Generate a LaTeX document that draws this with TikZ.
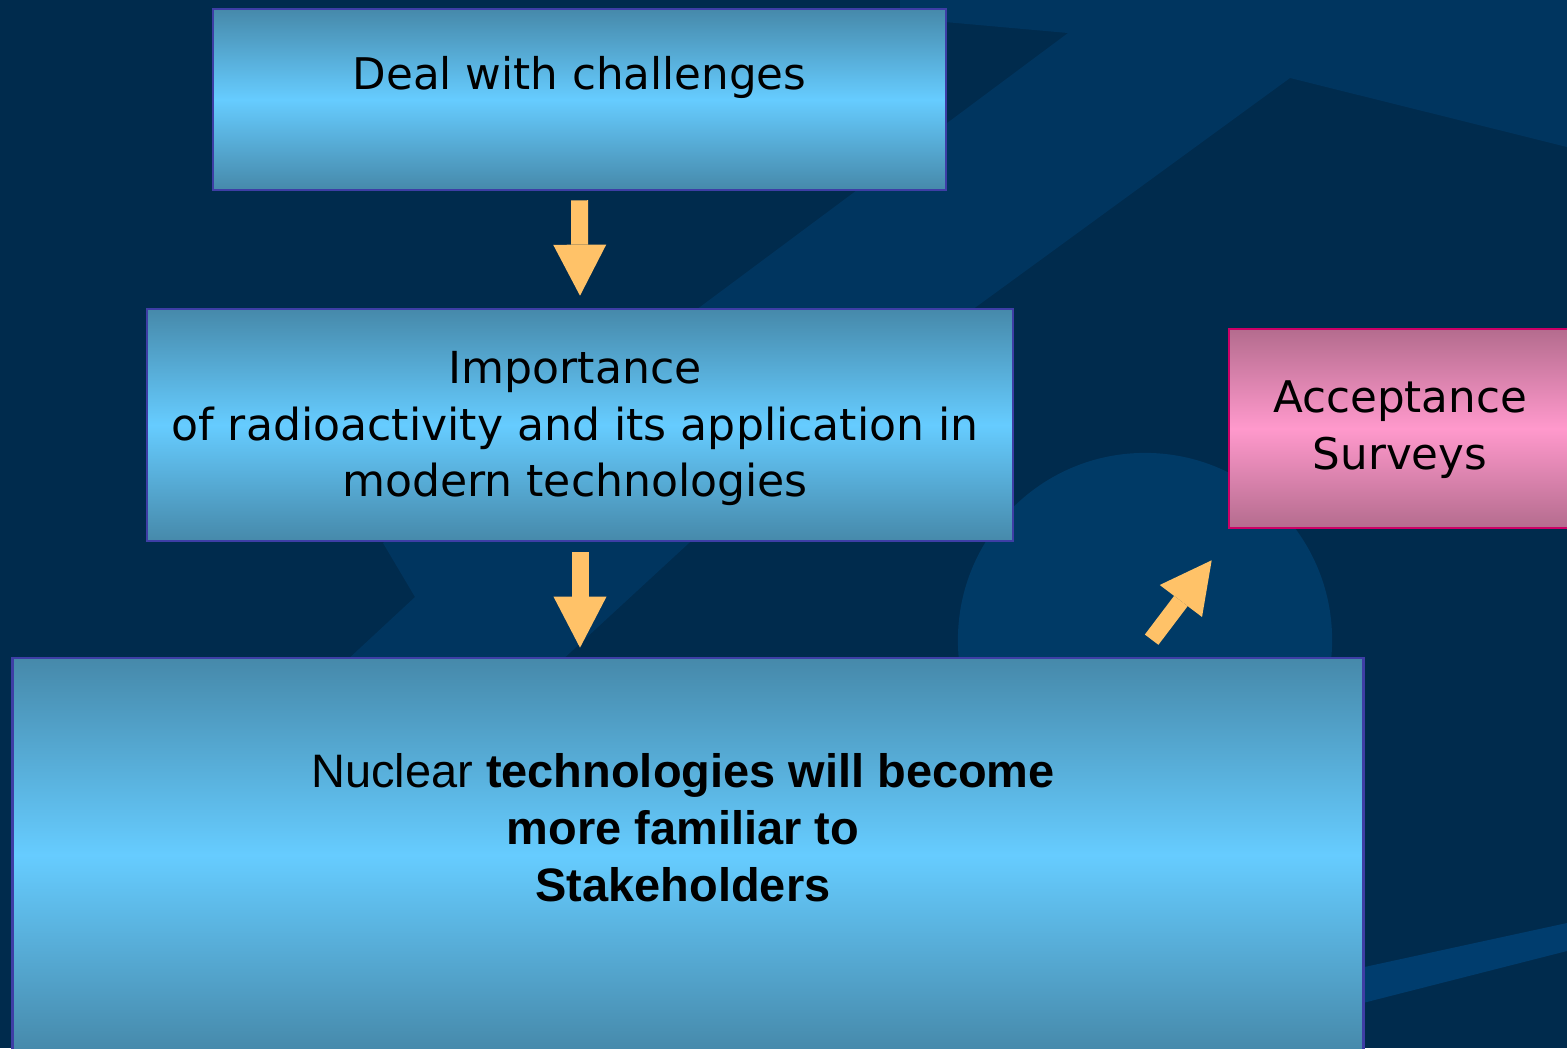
\documentclass[tikz,border=0pt]{standalone}
\usepackage{fontspec}
\setmainfont{DejaVu Sans}
\newfontfamily\arialfont{Liberation Sans}
\usetikzlibrary{arrows.meta,calc}

\definecolor{bgdark}{RGB}{0,43,77}
\definecolor{bgband}{RGB}{0,53,95}
\definecolor{bgdisc}{RGB}{0,58,102}
\definecolor{bgstripe}{RGB}{0,61,110}
\definecolor{boxedge}{RGB}{62,62,165}
\definecolor{boxdark}{RGB}{70,137,170}
\definecolor{boxlight}{RGB}{102,204,255}
\definecolor{pinkedge}{RGB}{204,0,102}
\definecolor{pinkdark}{RGB}{180,108,142}
\definecolor{pinklight}{RGB}{255,153,204}
\definecolor{arrowfill}{RGB}{255,194,104}

\tikzset{
  bluebox/.style={draw=boxedge, line width=0.7pt, top color=boxdark,
    bottom color=boxdark, middle color=boxlight, inner sep=0pt},
  pinkbox/.style={draw=pinkedge, line width=0.7pt, top color=pinkdark,
    bottom color=pinkdark, middle color=pinklight, inner sep=0pt},
  boxtext/.style={align=center, inner sep=0pt,
    font=\fontsize{12.4pt}{16.2pt}\selectfont},
  flowarrow/.style={draw=arrowfill, line width=0.17cm,
    -{Triangle[width=0.53cm,length=0.51cm,line width=0pt]}}
}

\begin{document}
\begin{tikzpicture}[x=0.01cm,y=-0.01cm]
    \useasboundingbox (0,0) rectangle (1567,1048);
    \clip (0,0) rectangle (1567,1048);
    % backdrop
    \fill[bgdark] (0,0) rectangle (1567,1048);
    \fill[bgband] (900,0) -- (900,18) -- (1068,33) -- (383,543) -- (415,597)
        -- (345,662) -- (560,662) -- (689,543) -- (976,307) -- (1290,78)
        -- (1567,147) -- (1567,0) -- cycle;
    \fill[bgdisc] (1145,640) circle (1.87cm);
    \fill[bgstripe] (1300,981) -- (1567,923) -- (1567,951) -- (1300,1019) -- cycle;
    % boxes
    \node[bluebox, minimum width=7.33cm, minimum height=1.81cm] (deal) at (579.5,99.5) {};
    \node[bluebox, minimum width=8.66cm, minimum height=2.32cm] (importance) at (580,425) {};
    \node[bluebox, minimum width=13.5cm, minimum height=3.94cm] (nuclear) at (688,855) {};
    \node[pinkbox, minimum width=3.42cm, minimum height=1.99cm] (survey) at (1400,428.5) {};
    % texts
    \node[boxtext] (dealtext) at (579.5,77.5) {Deal with challenges};
    \node[boxtext, font=\fontsize{12.55pt}{16.2pt}\selectfont] (importancetext) at (575,428.5)
        {Importance\\of radioactivity and its application in\\modern technologies};
    \node[boxtext, font=\arialfont\fontsize{13.35pt}{16.2pt}\selectfont] (nucleartext) at (683,827.5)
        {Nuclear \textbf{technologies will become}\\\textbf{more familiar to}\\\textbf{Stakeholders}};
    \node[boxtext] (surveytext) at (1400,429.5) {Acceptance\\Surveys};
    % arrows
    \draw[flowarrow] ($(deal.south)+(0,9)$) -- ($(importance.north)+(0,-12)$);
    \draw[flowarrow] ($(importance.south)+(0,10)$) -- ($(importance.south |- nuclear.north)+(0,-9)$);
    \coordinate (tail) at ($(nuclear.north east)+(-213,-17)$);
    \draw[flowarrow] (tail) -- ($(survey.south west)+(-16,31)$);
\end{tikzpicture}
\end{document}
